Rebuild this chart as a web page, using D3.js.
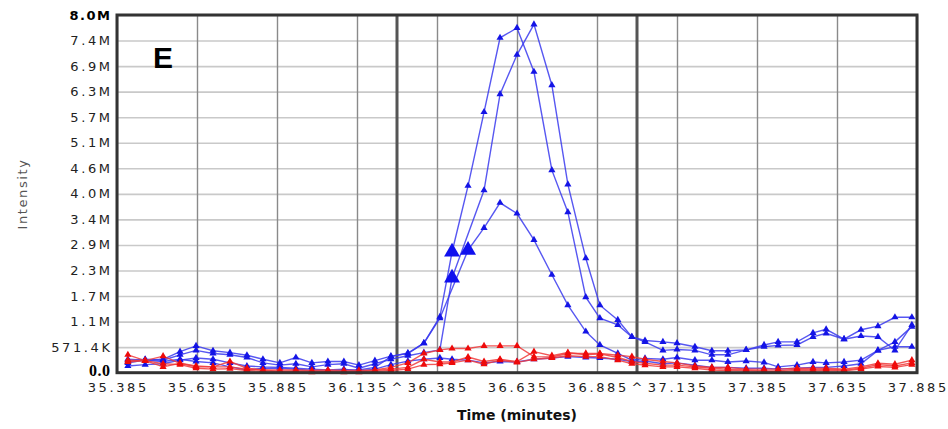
<!DOCTYPE html>
<html>
<head>
<meta charset="utf-8">
<title>Intensity</title>
<script src="https://d3js.org/d3.v7.min.js"></script>
<style>
body{margin:0;background:#fff;overflow:hidden;}
svg{display:block;}
</style>
</head>
<body>
<svg width="948" height="429" id="mainsvg"></svg>
<script>
// retention times (minutes) of the scans
const times = [35.419,35.473,35.529,35.582,35.632,35.685,35.738,35.791,35.841,35.894,
  35.944,35.994,36.044,36.094,36.141,36.191,36.241,36.294,36.344,36.394,
  36.432,36.482,36.532,36.582,36.635,36.688,36.744,36.794,36.850,36.894,
  36.950,36.994,37.035,37.091,37.135,37.191,37.244,37.294,37.351,37.407,
  37.451,37.510,37.560,37.601,37.657,37.710,37.763,37.816,37.869];

// intensities in millions, null = no point drawn
const blue1 = [0.30,0.28,0.30,0.47,0.60,0.49,0.45,0.39,0.30,0.22,
  0.34,0.22,0.25,0.25,0.17,0.27,0.37,0.43,0.66,1.25,
  2.70,4.18,5.83,7.49,7.71,6.73,4.53,3.59,1.69,1.22,
  1.07,0.80,0.72,0.69,0.66,0.58,0.49,0.49,0.51,0.62,
  0.69,0.69,0.89,0.97,0.75,0.96,1.04,1.24,1.24];
const blue2 = [0.25,0.30,0.28,0.40,0.50,0.43,0.40,0.34,0.22,0.17,
  0.20,0.13,0.18,0.20,0.10,0.20,0.30,0.38,0.45,0.51,
  2.12,null,4.08,6.23,7.11,7.79,6.43,4.21,2.56,1.51,
  1.18,0.80,0.69,0.50,0.52,0.50,0.40,0.40,0.51,0.58,
  0.61,0.62,0.80,0.88,0.75,0.82,0.80,0.50,1.07];
const blue3 = [0.22,0.28,0.25,0.30,0.25,0.22,0.13,0.06,0.10,0.10,
  0.08,0.05,0.02,0.06,0.06,0.12,0.36,0.44,0.66,1.22,
  null,2.74,3.24,3.80,3.56,2.97,2.19,1.51,0.92,0.62,
  0.43,0.28,0.32,0.30,0.34,0.28,0.28,0.24,0.26,0.23,
  0.13,0.17,0.24,0.22,0.24,0.28,0.50,0.58,0.58];
const blue4 = [0.15,0.18,0.20,0.28,0.33,0.30,0.22,0.15,0.13,0.12,
  0.10,0.08,0.06,0.08,0.04,0.08,0.18,0.26,0.30,0.33,
  0.30,0.28,0.22,0.25,0.24,0.30,0.33,0.36,0.34,0.33,
  0.30,0.25,0.26,0.20,0.22,0.17,0.12,0.12,0.10,0.10,
  0.08,0.10,0.12,0.12,0.15,0.20,0.50,0.69,1.03];
const red1 = [0.40,0.27,0.37,0.21,0.15,0.13,0.25,0.10,0.06,0.06,
  0.06,0.05,0.06,0.05,0.05,0.06,0.12,0.22,0.43,0.51,
  0.54,0.54,0.60,0.60,0.60,0.36,0.35,0.43,0.43,0.43,
  0.39,0.36,0.30,0.25,0.22,0.15,0.12,0.12,0.08,0.08,
  0.08,0.10,0.10,0.10,0.08,0.13,0.21,0.19,0.28];
const red2 = [0.28,0.27,0.13,0.21,0.13,0.13,0.13,0.08,0.06,0.03,
  0.04,0.03,0.03,0.02,0.02,0.05,0.08,0.12,0.30,0.24,
  0.24,0.35,0.25,0.30,0.25,0.47,0.38,0.45,0.40,0.42,
  0.34,0.25,0.21,0.17,0.17,0.13,0.10,0.08,0.06,0.04,
  0.04,0.08,0.06,0.08,0.06,0.10,0.18,0.15,0.22];
const red3 = [0.24,0.27,0.20,0.18,0.10,0.08,0.09,0.05,0.03,0.02,
  0.02,0.01,0.02,0.01,0.01,0.03,0.05,0.08,0.18,0.19,
  0.22,0.28,0.19,0.28,0.23,0.30,0.33,0.38,0.36,0.36,
  0.28,0.20,0.17,0.13,0.13,0.10,0.06,0.05,0.04,0.03,
  0.02,0.05,0.04,0.05,0.04,0.08,0.14,0.12,0.18];

// identified MS/MS scans (big triangles)
const idScans = [{series:'blue1', time:36.432},{series:'blue2', time:36.432},{series:'blue3', time:36.482}];

const xTickLabels = ['35.385','35.635','35.885','36.135','36.385','36.635','36.885','37.135','37.385','37.635','37.885'];
const yTickLabels = ['0.0','571.4K','1.1M','1.7M','2.3M','2.9M','3.4M','4.0M','4.6M','5.1M','5.7M','6.3M','6.9M','7.4M','8.0M'];
const boundaries = [36.26, 37.01];

const series = [
  {name:'blue4', values:blue4, line:'#3a3aee', fill:'#1414e6'},
  {name:'blue3', values:blue3, line:'#3a3aee', fill:'#1414e6'},
  {name:'blue2', values:blue2, line:'#3a3aee', fill:'#1414e6'},
  {name:'blue1', values:blue1, line:'#3a3aee', fill:'#1414e6'},
  {name:'red3', values:red3, line:'#f03a3a', fill:'#ee0a0a'},
  {name:'red2', values:red2, line:'#f03a3a', fill:'#ee0a0a'},
  {name:'red1', values:red1, line:'#f03a3a', fill:'#ee0a0a'}
];

const svg = d3.select('#mainsvg');
const margin = {top:15, left:117, right:31, bottom:56.3};
const width = 948, height = 429;
const innerWidth = width - margin.left - margin.right;
const innerHeight = height - margin.top - margin.bottom;
const ls = 2.6;   // wide letter spacing of the axis labels

const xScale = d3.scaleLinear().domain([+xTickLabels[0], +xTickLabels[xTickLabels.length-1]]).range([0, innerWidth]);
const yScale = d3.scaleLinear().domain([0, 8.0]).range([innerHeight, 0]);
const yTickValues = yTickLabels.map((d,i) => i * 8.0 / (yTickLabels.length - 1));
const xTickValues = xTickLabels.map(Number);

svg.append('rect').attr('width', width).attr('height', height).attr('fill', '#fff');
const g = svg.append('g').attr('transform', `translate(${margin.left},${margin.top})`);

// horizontal grid
g.append('g').call(d3.axisLeft(yScale).tickValues(yTickValues).tickSize(-innerWidth))
  .call(a => a.select('.domain').remove())
  .call(a => a.selectAll('text').remove())
  .selectAll('line').attr('stroke', '#c9c9c9').attr('stroke-width', 1.6);
// vertical grid
g.append('g').attr('transform', `translate(0,${innerHeight})`)
  .call(d3.axisBottom(xScale).tickValues(xTickValues).tickSize(-innerHeight))
  .call(a => a.select('.domain').remove())
  .call(a => a.selectAll('text').remove())
  .selectAll('line').attr('stroke', '#8a8a8a').attr('stroke-width', 1.4);
// integration boundaries
g.selectAll('.bound').data(boundaries).join('line').attr('class', 'bound')
  .attr('x1', d => xScale(d)).attr('x2', d => xScale(d))
  .attr('y1', 0).attr('y2', innerHeight)
  .attr('stroke', '#555').attr('stroke-width', 3);

const line = d3.line().x(d => xScale(d.t)).y(d => yScale(d.v));
const tri = d3.symbol(d3.symbolTriangle, 22);
const bigTri = d3.symbol(d3.symbolTriangle, 110);

series.forEach(s => {
  const pts = times.map((t,i) => ({t:t, v:s.values[i]})).filter(d => d.v !== null);
  g.append('path').datum(pts).attr('d', line)
    .attr('fill', 'none').attr('stroke', s.line).attr('stroke-width', 1.4).attr('stroke-opacity', 0.85);
  g.append('g').selectAll('path').data(pts).join('path')
    .attr('d', tri)
    .attr('transform', d => `translate(${xScale(d.t)},${yScale(d.v)})`)
    .attr('fill', s.fill);
});

idScans.forEach(m => {
  const s = series.find(d => d.name === m.series);
  const v = s.values[times.indexOf(m.time)];
  g.append('path').attr('d', bigTri)
    .attr('transform', `translate(${xScale(m.time)},${yScale(v)})`)
    .attr('fill', '#1010ee');
});

// border
g.append('rect').attr('width', innerWidth).attr('height', innerHeight)
  .attr('fill', 'none').attr('stroke', '#333').attr('stroke-width', 3);

// y axis labels
svg.append('g').selectAll('text').data(yTickValues).join('text')
  .attr('x', margin.left - 7 + ls)
  .attr('y', d => margin.top + yScale(d) + 4.5)
  .attr('text-anchor', 'end')
  .attr('font-family', 'DejaVu Sans').attr('font-size', 13).attr('letter-spacing', ls).attr('fill', '#222')
  .text((d,i) => yTickLabels[i])
  .each(function(d,i){
    if (i === yTickLabels.length - 1) d3.select(this).attr('font-weight', 'bold').attr('fill', '#000')
      .attr('letter-spacing', 1.5).attr('x', margin.left - 5.5);
    if (i === 0) d3.select(this).attr('font-family', 'Liberation Serif').attr('font-size', 16)
      .attr('font-weight', 'bold').attr('fill', '#000').attr('letter-spacing', 0.5)
      .attr('x', margin.left - 6.5).attr('y', margin.top + yScale(d) + 3);
  });

// x axis labels
svg.append('g').selectAll('text').data(xTickValues).join('text')
  .attr('x', d => margin.left + xScale(d) + ls / 2)
  .attr('y', margin.top + innerHeight + 19.5)
  .attr('text-anchor', 'middle')
  .attr('font-family', 'DejaVu Sans').attr('font-size', 13).attr('letter-spacing', ls).attr('fill', '#222')
  .text((d,i) => xTickLabels[i]);
svg.append('g').selectAll('text').data(boundaries).join('text')
  .attr('x', d => margin.left + xScale(d)).attr('y', margin.top + innerHeight + 19.5)
  .attr('text-anchor', 'middle').attr('font-family', 'DejaVu Sans').attr('font-size', 13).attr('fill', '#222')
  .text('^');

// titles
svg.append('text').text('Time (minutes)')
  .attr('x', margin.left + innerWidth / 2).attr('y', 420)
  .attr('text-anchor', 'middle').attr('font-family', 'DejaVu Sans').attr('font-weight', 'bold')
  .attr('font-size', 14).attr('fill', '#111');
svg.append('text').text('Intensity')
  .attr('transform', 'translate(22,194) rotate(-90)')
  .attr('text-anchor', 'middle').attr('dominant-baseline', 'central')
  .attr('font-family', 'DejaVu Sans').attr('font-size', 13).attr('letter-spacing', 1.6).attr('fill', '#555');
svg.append('text').text('E')
  .attr('x', 153).attr('y', 68)
  .attr('font-family', 'Liberation Sans').attr('font-weight', 'bold').attr('font-size', 30).attr('fill', '#000');
</script>
</body>
</html>
